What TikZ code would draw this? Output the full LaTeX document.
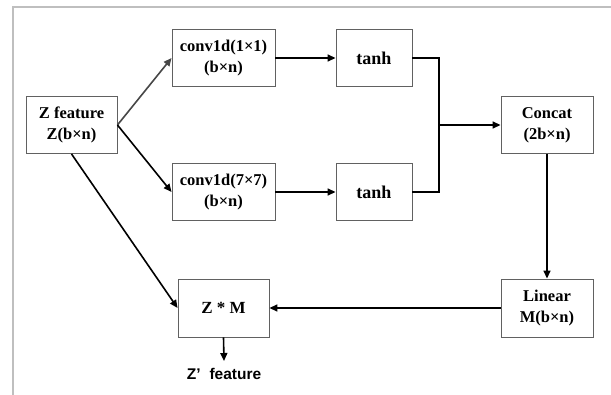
\documentclass[tikz,border=0pt]{standalone}
\usepackage{fontspec}
\setmainfont{Liberation Serif}
\newfontfamily\zsans{Liberation Sans}
\usetikzlibrary{arrows.meta}
\begin{document}
\begin{tikzpicture}[x=1pt,y=-1pt,
  box/.style={draw=black!62, line width=0.9pt, fill=white, inner sep=0pt,
    align=center, font=\fontsize{16.5}{21}\selectfont\bfseries},
  link/.style={line width=1.6pt, -{Triangle[length=8pt,width=7pt]}},
  plain/.style={line width=1.6pt}]
\useasboundingbox (0,0) rectangle (611,395);
% page frame
\draw[black!25, line width=1.4pt] (13,395) -- (13,7) -- (611,7);

% blocks
\node[box, minimum width=91pt, minimum height=57pt] (zf) at (71.5,125) {Z feature\\Z(b×n)};
\node[box, minimum width=103pt, minimum height=57pt] (c1) at (223.5,58) {conv1d(1×1)\\(b×n)};
\node[box, minimum width=103pt, minimum height=57pt] (c7) at (223.5,192) {conv1d(7×7)\\(b×n)};
\node[box, minimum width=76pt, minimum height=57pt, font=\fontsize{18}{21}\selectfont\bfseries] (t1) at (374,58) {tanh};
\node[box, minimum width=76pt, minimum height=57pt, font=\fontsize{18}{21}\selectfont\bfseries] (t2) at (374,192) {tanh};
\node[box, minimum width=92pt, minimum height=57pt] (cc) at (547,125) {Concat\\(2b×n)};
\node[box, minimum width=92pt, minimum height=58pt] (ln) at (547,308) {Linear\\M(b×n)};
\node[box, minimum width=91pt, minimum height=58pt, font=\fontsize{17}{21}\selectfont\bfseries] (zm) at (223.5,308) {Z * M};
\node[inner sep=0pt, font=\zsans\fontsize{15.5}{18}\selectfont\bfseries] (zo) at (224,374) {Z’\hspace{0.3em} feature};

% connectors
\coordinate (j) at (439,125);
\coordinate (zoin) at (224,361);
\draw[link, black!72] (zf.east) -- (c1.west);
\draw[link] (zf.east) -- (c7.west);
\draw[link] (zf.south) -- (zm.west);
\draw[link] (c1.east) -- (t1.west);
\draw[link] (c7.east) -- (t2.west);
\draw[plain, line join=miter] (t1.east) -| (j) |- (t2.east);
\draw[link] (j) -- (cc.west);
\draw[link] (cc.south) -- (ln.north);
\draw[link] (ln.west) -- (zm.east);
\draw[link] (zm.south) -- (zoin);
\end{tikzpicture}
\end{document}
